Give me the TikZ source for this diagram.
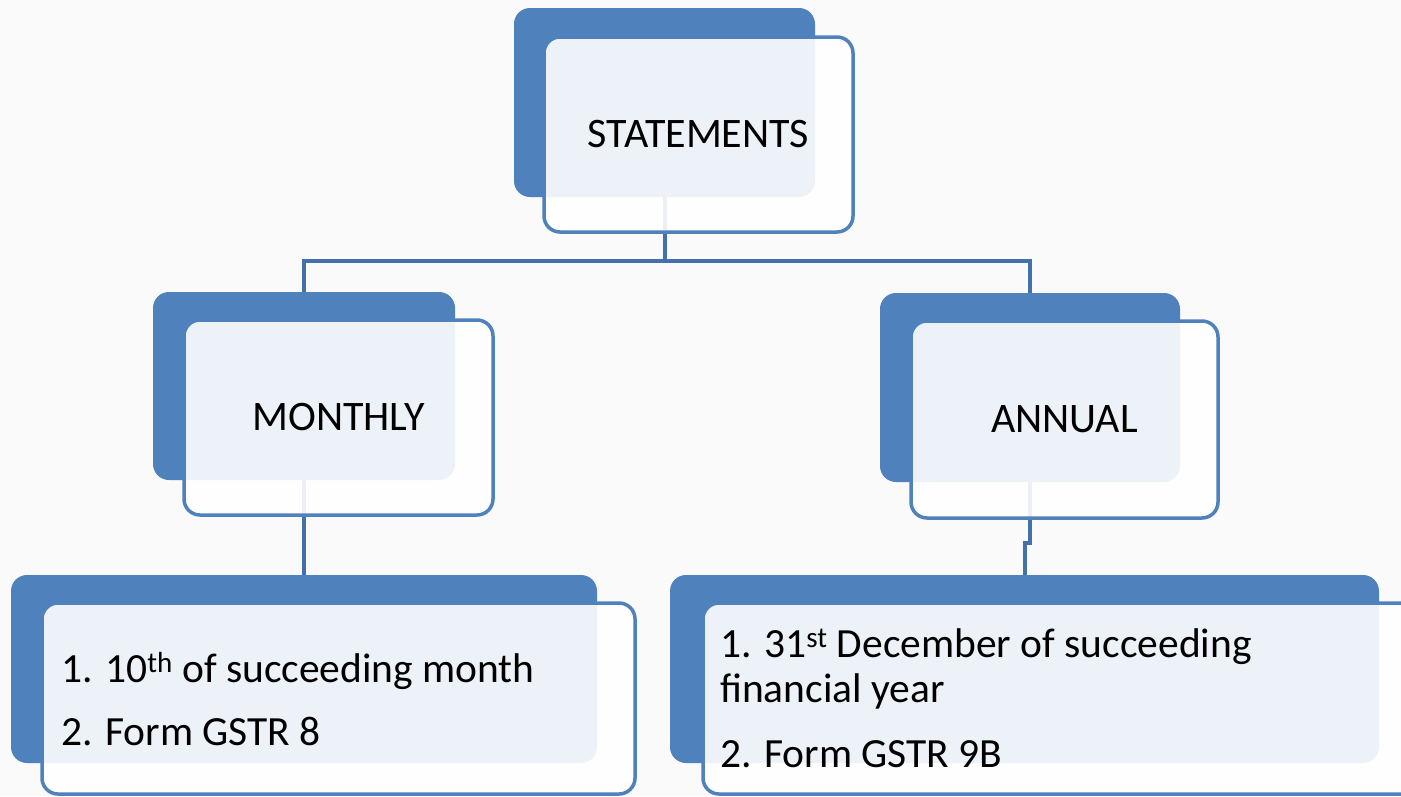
\documentclass[tikz,border=0pt]{standalone}
\usepackage{fontspec}
\setmainfont{Carlito}
\definecolor{accent}{HTML}{4F81BD}
\definecolor{connblue}{HTML}{4470AB}
\definecolor{bgcol}{HTML}{FAFAFA}
\begin{document}
\begin{tikzpicture}[x=1pt,y=-1pt,
  backbox/.style={rectangle, rounded corners=16pt, fill=accent, draw=none, inner sep=0pt},
  frontbox/.style={rectangle, rounded corners=16pt, fill=white, fill opacity=0.9, text opacity=1, draw=accent, line width=3.5pt, inner sep=0pt, font=\fontsize{42}{50}\selectfont},
  itemtext/.style={anchor=base west, inner sep=0pt, font=\fontsize{41.5}{50}\selectfont},
  conn/.style={draw=connblue, line width=4pt}]
\useasboundingbox (0,0) rectangle (1401,796);
\clip (0,0) rectangle (1401,796);
\fill[bgcol] (0,0) rectangle (1401,796);

% back boxes
\node[backbox, minimum width=301pt, minimum height=189pt] (sb) at (664.5,102.5) {};
\node[backbox, minimum width=302pt, minimum height=188pt] (mb) at (304,386) {};
\node[backbox, minimum width=300pt, minimum height=189pt] (ab) at (1030,387.5) {};
\node[backbox, minimum width=586pt, minimum height=188pt] (blb) at (304,669) {};
\node[backbox, minimum width=709pt, minimum height=188pt] (brb) at (1024.5,669) {};

% connectors
\draw[conn] (sb.south) -- (sb.south |- 0,261) -| (mb.north);
\draw[conn] (sb.south |- 0,261) -| (ab.north);
\draw[conn] (mb.south) -- (blb.north);
\draw[conn] (ab.south) -- (ab.south |- 0,543) -| (brb.north);

% front boxes
\node[frontbox, minimum width=309pt, minimum height=195pt] (sf) at (698.5,134.5) {STATEMENTS};
\node[frontbox, minimum width=309pt, minimum height=195pt] (mf) at (338.5,417.5) {MONTHLY};
\node[frontbox, minimum width=307pt, minimum height=197pt] (af) at (1064.5,419.5) {ANNUAL};
\node[frontbox, minimum width=593pt, minimum height=191pt] (blf) at (338.5,698.5) {};
\node[frontbox, minimum width=716pt, minimum height=191pt] (brf) at (1061,698.5) {};

% texts
\node[itemtext] (l1) at (61,682) {1. 10\textsuperscript{th} of succeeding month};
\node[itemtext] (l2) at (61,745) {2. Form GSTR 8};
\node[itemtext] (r1) at (720,657) {1. 31\textsuperscript{st} December of succeeding};
\node[itemtext] (r2) at (720,702) {financial year};
\node[itemtext] (r3) at (720,767) {2. Form GSTR 9B};
\end{tikzpicture}
\end{document}
